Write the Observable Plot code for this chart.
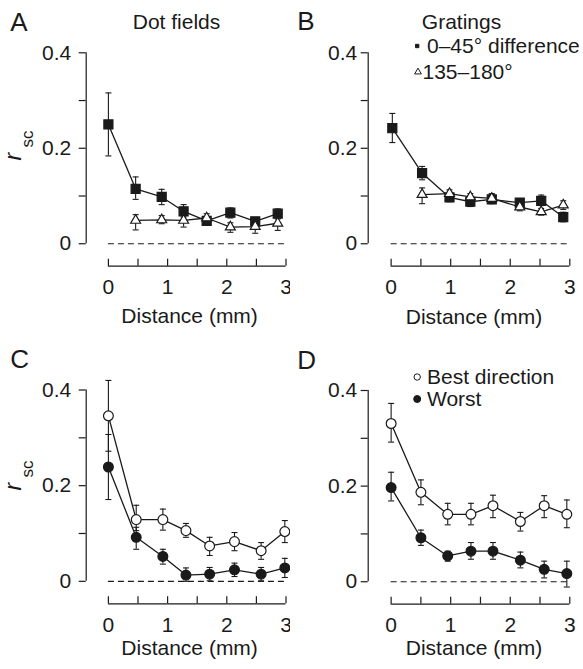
<!DOCTYPE html>
<html><head><meta charset="utf-8">
<script src="https://cdn.jsdelivr.net/npm/d3@7"></script>
<script src="https://cdn.jsdelivr.net/npm/@observablehq/plot@0.6"></script>
<style>
body{margin:0;background:#fff;}
#fig{position:relative;width:583px;height:669px;background:#fff;overflow:hidden;}
.panel{position:absolute;}
</style></head><body><div id="fig"></div>
<script>
// ---- tick data ----
const xTicks = [0, 0.5, 1, 1.5, 2, 2.5, 3];
const xTickLabels = [0, 1, 2, 3];
const yTicks = [0, 0.1, 0.2, 0.3, 0.4];
const yTickLabels = ["0", "", "0.2", "", "0.4"];
const xLabel = "Distance (mm)";
const panelLetters = ["A", "B", "C", "D"];
const panelTitles = ["Dot fields", "Gratings"];
const legendB = ["0\u201345\u00b0 difference", "135\u2013180\u00b0"];
const legendD = ["Best direction", "Worst"];

// ---- Panel A: dot fields ----
const distA = [0, 0.46, 0.90, 1.27, 1.66, 2.06, 2.48, 2.86];
const nearA = [0.250, 0.115, 0.098, 0.068, 0.048, 0.065, 0.047, 0.063];
const nearA_lo = [0.184, 0.093, 0.082, 0.056, 0.040, 0.054, 0.042, 0.052];
const nearA_hi = [0.316, 0.140, 0.114, 0.082, 0.056, 0.075, 0.052, 0.073];
const distA2 = [0.46, 0.90, 1.27, 1.66, 2.06, 2.48, 2.86];
const farA = [0.049, 0.050, 0.049, 0.054, 0.035, 0.036, 0.043];
const farA_lo = [0.029, 0.042, 0.035, 0.045, 0.024, 0.022, 0.028];
const farA_hi = [0.061, 0.059, 0.059, 0.063, 0.044, 0.049, 0.059];

// ---- Panel B: gratings ----
const distB = [0.02, 0.52, 0.98, 1.33, 1.69, 2.16, 2.52, 2.89];
const nearB = [0.242, 0.148, 0.097, 0.088, 0.093, 0.086, 0.090, 0.056];
const nearB_lo = [0.212, 0.134, 0.088, 0.078, 0.084, 0.076, 0.080, 0.046];
const nearB_hi = [0.273, 0.162, 0.106, 0.098, 0.104, 0.094, 0.102, 0.066];
const distB2 = [0.52, 0.98, 1.33, 1.69, 2.16, 2.52, 2.89];
const farB = [0.103, 0.105, 0.098, 0.095, 0.077, 0.067, 0.081];
const farB_lo = [0.084, 0.097, 0.090, 0.087, 0.069, 0.060, 0.072];
const farB_hi = [0.117, 0.113, 0.105, 0.105, 0.085, 0.074, 0.090];

// ---- Panel C ----
const distC = [0, 0.47, 0.92, 1.31, 1.71, 2.13, 2.58, 2.98];
const bestC = [0.346, 0.129, 0.129, 0.106, 0.074, 0.083, 0.064, 0.104];
const bestC_lo = [0.272, 0.106, 0.107, 0.092, 0.054, 0.064, 0.046, 0.081];
const bestC_hi = [0.420, 0.159, 0.151, 0.121, 0.092, 0.102, 0.081, 0.127];
const worstC = [0.239, 0.092, 0.052, 0.013, 0.015, 0.024, 0.015, 0.028];
const worstC_lo = [0.171, 0.067, 0.036, 0.000, 0.001, 0.010, 0.001, 0.008];
const worstC_hi = [0.307, 0.113, 0.067, 0.028, 0.029, 0.038, 0.029, 0.048];

// ---- Panel D ----
const distD = [0, 0.50, 0.95, 1.34, 1.71, 2.17, 2.57, 2.95];
const bestD = [0.331, 0.187, 0.141, 0.141, 0.159, 0.126, 0.159, 0.141];
const bestD_lo = [0.292, 0.161, 0.119, 0.119, 0.134, 0.106, 0.134, 0.113];
const bestD_hi = [0.373, 0.213, 0.164, 0.164, 0.181, 0.145, 0.180, 0.171];
const worstD = [0.197, 0.092, 0.054, 0.064, 0.064, 0.045, 0.026, 0.017];
const worstD_lo = [0.169, 0.076, 0.043, 0.047, 0.047, 0.029, 0.008, -0.011];
const worstD_hi = [0.229, 0.108, 0.064, 0.082, 0.082, 0.062, 0.043, 0.043];

// ---- helpers ----
const INK = "#1a1a1a";
const FONT = "'Liberation Sans', Arial, Helvetica, sans-serif";
const Y_MIN = -0.047, Y_MAX = 0.4;
const rows = (x, y, lo, hi) => x.map((d, i) => ({x: d, y: y[i], lo: lo[i], hi: hi[i]}));
const capSymbol = {draw(ctx, size) { const h = Math.sqrt(size / Math.PI); ctx.moveTo(-h, 0); ctx.lineTo(h, 0); }};
const yLabelMap = new Map(yTicks.map((t, i) => [t, yTickLabels[i]]));

function panel(cfg) {
  const pxPerUnit = (cfg.height - cfg.mT - cfg.mB) / (Y_MAX - Y_MIN);
  const tickTop = Y_MIN + 7 / pxPerUnit;
  const marks = [
    Plot.ruleY([0], {x1: 0, x2: 3, stroke: INK, strokeWidth: 1.2, strokeDasharray: "6,4"}),
    Plot.ruleX([cfg.xMin], {y1: 0, y2: Y_MAX, stroke: INK, strokeWidth: 1.2}),
    Plot.ruleY([Y_MIN], {x1: 0, x2: 3, stroke: INK, strokeWidth: 1.2}),
    Plot.ruleX(xTicks, {x: d => d, y1: Y_MIN, y2: tickTop, stroke: INK, strokeWidth: 1.2}),
    Plot.axisY(yTicks, {tickFormat: d => yLabelMap.get(d), tickSize: 7, tickPadding: cfg.yPad, fontSize: 21, label: null, stroke: INK, strokeWidth: 1.2, fill: INK}),
    Plot.axisX(xTickLabels, {tickSize: 0, tickPadding: 13, fontSize: 21, label: null, fill: INK}),
    Plot.text([xLabel], {text: d => d, frameAnchor: "bottom", lineAnchor: "middle", dx: cfg.xlDx, dy: cfg.xlDy, fontSize: 21, fill: INK}),
    Plot.text([cfg.letter], {text: d => d, frameAnchor: "top-left", textAnchor: "start", lineAnchor: "middle", dx: cfg.letDx, dy: cfg.letDy, fontSize: 26, fill: INK})
  ];
  if (cfg.title) marks.push(Plot.text([cfg.title], {text: d => d, frameAnchor: "top", lineAnchor: "middle", dx: cfg.tDx, dy: -31, fontSize: 21, fill: INK}));
  if (cfg.ylabel) {
    marks.push(Plot.text(["r"], {text: d => d, frameAnchor: "top-left", rotate: -90, textAnchor: "start", lineAnchor: "bottom", fontStyle: "italic", fontSize: 23, dx: 20 - cfg.mL, dy: 160 - cfg.mT, fill: INK}));
    marks.push(Plot.text(["sc"], {text: d => d, frameAnchor: "top-left", rotate: -90, textAnchor: "start", lineAnchor: "bottom", fontSize: 17, dx: 33 - cfg.mL, dy: 147 - cfg.mT, fill: INK}));
  }
  for (const s of cfg.series) {
    marks.push(Plot.ruleX(s.data, {x: "x", y1: "lo", y2: "hi", stroke: INK, strokeWidth: 1.1}));
    marks.push(Plot.dot(s.data, {x: "x", y: "lo", symbol: capSymbol, r: 3, fill: "none", stroke: INK, strokeWidth: 1.1}));
    marks.push(Plot.dot(s.data, {x: "x", y: "hi", symbol: capSymbol, r: 3, fill: "none", stroke: INK, strokeWidth: 1.1}));
    marks.push(Plot.line(s.data, {x: "x", y: "y", stroke: INK, strokeWidth: 1.3}));
  }
  for (const s of cfg.series) {
    marks.push(Plot.dot(s.data, {x: "x", y: "y", symbol: s.symbol, r: s.r, fill: s.fill, stroke: INK, strokeWidth: 1.2}));
  }
  if (cfg.legend) {
    cfg.legend.forEach((lg) => {
      marks.push(Plot.dot([lg], {frameAnchor: "top-left", symbol: lg.symbol, r: lg.r, fill: lg.fill, stroke: INK, strokeWidth: 1, dx: lg.mx - cfg.mL, dy: lg.my - cfg.mT}));
      marks.push(Plot.text([lg.label], {text: d => d, frameAnchor: "top-left", textAnchor: "start", lineAnchor: "middle", fontSize: 21, dx: lg.tx - cfg.mL, dy: lg.my - cfg.mT, fill: INK}));
    });
  }
  const chart = Plot.plot({
    width: cfg.width, height: cfg.height,
    marginLeft: cfg.mL, marginRight: cfg.mR, marginTop: cfg.mT, marginBottom: cfg.mB,
    x: {domain: [cfg.xMin, 3]},
    y: {domain: [Y_MIN, Y_MAX]},
    style: {fontFamily: FONT, background: "#fff", overflow: "visible", color: INK},
    marks
  });
  const div = document.createElement("div");
  div.className = "panel";
  div.style.left = cfg.left + "px";
  div.style.top = cfg.top + "px";
  div.appendChild(chart);
  document.getElementById("fig").appendChild(div);
}

const leftGeom = {width: 290, mL: 85.7, mR: 4.5, xMin: -0.375, yPad: 8, letDx: -76, xlDx: 3.5};
const rightGeom = {width: 293, mL: 77.7, mR: 13.7, xMin: -0.385, yPad: 4, letDx: -71, xlDx: 5};

panel({...leftGeom, left: 0, top: 0, height: 330, mT: 52.3, mB: 64.3, letter: panelLetters[0], letDy: -30,
  xlDy: 50, title: panelTitles[0], tDx: -9.6, ylabel: true,
  series: [
    {data: rows(distA, nearA, nearA_lo, nearA_hi), symbol: "square", r: 5.1, fill: INK},
    {data: rows(distA2, farA, farA_lo, farA_hi), symbol: "triangle", r: 3.7, fill: "#fff"}
  ]});

panel({...rightGeom, left: 290, top: 0, height: 330, mT: 52.3, mB: 64.3, letter: panelLetters[1], letDy: -31,
  xlDy: 51, title: panelTitles[1], tDx: -7.5,
  series: [
    {data: rows(distB, nearB, nearB_lo, nearB_hi), symbol: "square", r: 5.1, fill: INK},
    {data: rows(distB2, farB, farB_lo, farB_hi), symbol: "triangle", r: 3.7, fill: "#fff"}
  ],
  legend: [
    {label: legendB[0], symbol: "square", r: 1.9, fill: INK, mx: 126.7, my: 45.5, tx: 136.5},
    {label: legendB[1], symbol: "triangle", r: 2.5, fill: "#fff", mx: 127.5, my: 71.5, tx: 132}
  ]});

panel({...leftGeom, left: 0, top: 330, height: 339, mT: 59.5, mB: 65.7, letter: panelLetters[2], letDy: -30,
  xlDy: 44, ylabel: true,
  series: [
    {data: rows(distC, bestC, bestC_lo, bestC_hi), symbol: "circle", r: 4.9, fill: "#fff"},
    {data: rows(distC, worstC, worstC_lo, worstC_hi), symbol: "circle", r: 4.9, fill: INK}
  ]});

panel({...rightGeom, left: 290, top: 330, height: 339, mT: 60, mB: 65.3, letter: panelLetters[3], letDy: -30,
  xlDy: 44,
  series: [
    {data: rows(distD, bestD, bestD_lo, bestD_hi), symbol: "circle", r: 4.9, fill: "#fff"},
    {data: rows(distD, worstD, worstD_lo, worstD_hi), symbol: "circle", r: 4.9, fill: INK}
  ],
  legend: [
    {label: legendD[0], symbol: "circle", r: 3.2, fill: "#fff", mx: 126.7, my: 46.5, tx: 136.5},
    {label: legendD[1], symbol: "circle", r: 3.5, fill: INK, mx: 126.7, my: 68.5, tx: 136.5}
  ]});
</script>
</body></html>
